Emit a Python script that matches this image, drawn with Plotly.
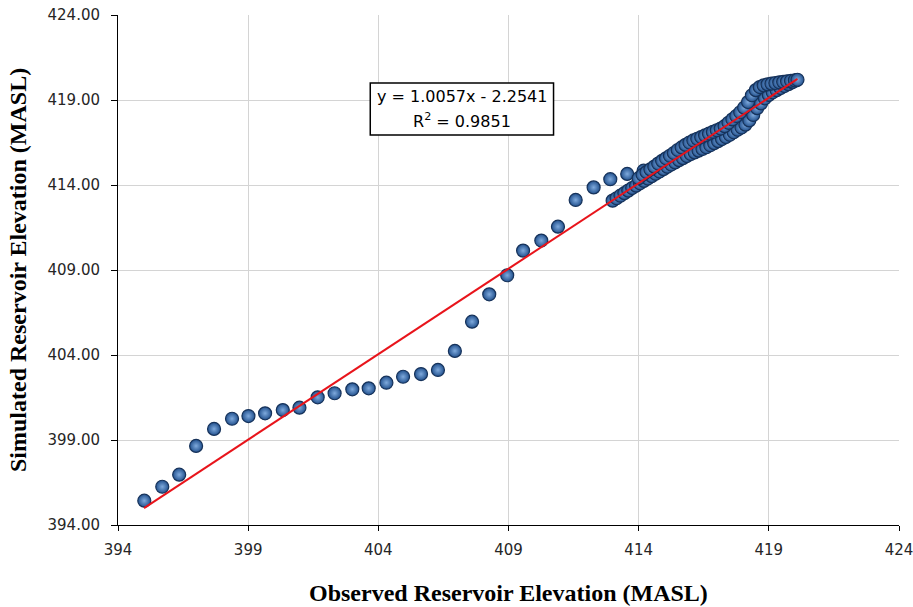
import plotly.graph_objects as go

# Sparse observed / simulated pairs (lower range)
obs_sparse = [395.01, 395.70, 396.35, 397.00, 397.69, 398.38, 399.01, 399.65, 400.33, 400.97,
              401.67, 402.32, 403.00, 403.63, 404.31, 404.95, 405.64, 406.29, 406.94, 407.60,
              408.26, 408.95, 409.56, 410.26, 410.90, 411.58, 412.27, 412.91, 413.56, 414.19]
sim_sparse = [395.43, 396.25, 396.96, 398.65, 399.65, 400.25, 400.41, 400.57, 400.76, 400.90,
              401.51, 401.75, 401.98, 402.04, 402.37, 402.72, 402.88, 403.12, 404.24, 405.96,
              407.57, 408.69, 410.14, 410.73, 411.55, 413.12, 413.86, 414.34, 414.65, 414.84]

# Dense band, upper row
obs_upper = [414.00, 414.15, 414.30, 414.45, 414.60, 414.75, 414.90, 415.05, 415.20, 415.35,
             415.50, 415.65, 415.80, 415.95, 416.10, 416.25, 416.40, 416.55, 416.70, 416.85,
             417.00, 417.15, 417.30, 417.45, 417.60, 417.75, 417.90, 418.05, 418.20, 418.35,
             418.50, 418.65, 418.80, 418.95, 419.10, 419.25, 419.40, 419.55, 419.70, 419.85,
             420.00, 420.10]
sim_upper = [414.40, 414.60, 414.76, 414.92, 415.08, 415.26, 415.42, 415.57, 415.72, 415.88,
             416.06, 416.21, 416.36, 416.50, 416.62, 416.72, 416.82, 416.92, 417.02, 417.12,
             417.22, 417.32, 417.46, 417.66, 417.86, 418.06, 418.28, 418.55, 418.88, 419.28,
             419.58, 419.76, 419.86, 419.92, 419.96, 420.00, 420.04, 420.07, 420.10, 420.13,
             420.16, 420.19]

# Dense band, lower row
obs_lower = [413.00, 413.15, 413.30, 413.45, 413.60, 413.75, 413.90, 414.05, 414.20, 414.35,
             414.50, 414.65, 414.80, 414.95, 415.10, 415.25, 415.40, 415.55, 415.70, 415.85,
             416.00, 416.15, 416.30, 416.45, 416.60, 416.75, 416.90, 417.05, 417.20, 417.35,
             417.50, 417.65, 417.80, 417.95, 418.10, 418.25, 418.40, 418.55, 418.70, 418.85,
             419.00, 419.15, 419.30, 419.45, 419.60, 419.75, 419.90, 420.05]
sim_lower = [413.08, 413.22, 413.37, 413.52, 413.67, 413.82, 413.96, 414.10, 414.24, 414.38,
             414.52, 414.66, 414.79, 414.93, 415.07, 415.20, 415.33, 415.46, 415.58, 415.70,
             415.82, 415.92, 416.02, 416.12, 416.22, 416.34, 416.46, 416.58, 416.70, 416.82,
             416.95, 417.10, 417.25, 417.38, 417.55, 417.80, 418.12, 418.52, 418.80, 419.10,
             419.30, 419.45, 419.58, 419.70, 419.82, 419.93, 420.04, 420.15]

# Linear trendline
slope = 1.0057
intercept = -2.2541
trend_x = [395.0, 420.1]
r2 = 0.9851

tick_vals = [394, 399, 404, 409, 414, 419, 424]

obs = obs_sparse + obs_lower + obs_upper
sim = sim_sparse + sim_lower + sim_upper
trend_y = [slope * v + intercept for v in trend_x]

fig = go.Figure()
fig.add_trace(go.Scatter(
    x=obs, y=sim, mode="markers",
    marker=dict(size=13, color="#22518E",
                gradient=dict(type="radial", color="#7FAADD"),
                line=dict(color="#16325A", width=1.2)),
    showlegend=False, hoverinfo="x+y", cliponaxis=False))
fig.add_trace(go.Scatter(
    x=trend_x, y=trend_y, mode="lines",
    line=dict(color="#E8141B", width=2),
    showlegend=False, hoverinfo="skip"))

tick_font = dict(family="DejaVu Sans", size=15, color="#262626")
fig.update_xaxes(range=[394, 424], tickvals=tick_vals, ticktext=[str(v) for v in tick_vals],
                 showgrid=True, gridcolor="#D4D4D4", gridwidth=1,
                 showline=True, linecolor="#000000", linewidth=1,
                 ticks="outside", ticklen=5, tickcolor="#000000",
                 tickfont=tick_font, zeroline=False, ticklabelstandoff=6, automargin=False,
                 ticklabeloverflow="allow")
fig.update_yaxes(range=[394, 424], tickvals=tick_vals, ticktext=["%.2f" % v for v in tick_vals],
                 showgrid=True, gridcolor="#D4D4D4", gridwidth=1,
                 showline=True, linecolor="#000000", linewidth=1,
                 ticks="outside", ticklen=6, tickcolor="#000000",
                 tickfont=tick_font, zeroline=False, ticklabelstandoff=8, automargin=False,
                 ticklabeloverflow="allow")

fig.add_shape(type="rect", xref="x", yref="y", x0=403.69, x1=410.73, y0=416.94, y1=420.0,
              line=dict(color="#000000", width=1.5), fillcolor="white", layer="above")
box_font = dict(family="DejaVu Sans", size=16, color="#000000")
fig.add_annotation(x=407.2, y=419.18, xref="x", yref="y", showarrow=False,
                   text="y = %.4fx - %.4f" % (slope, -intercept), font=box_font)
fig.add_annotation(x=407.2, y=417.78, xref="x", yref="y", showarrow=False,
                   text="R<sup>2</sup> = %.4f" % r2, font=box_font)

title_font = dict(family="Liberation Serif", size=24, color="#000000")
fig.add_annotation(text="<b>Observed Reservoir Elevation (MASL)</b>", xref="paper", yref="paper",
                   x=0.5, y=0, yanchor="middle", yshift=-68, showarrow=False, font=title_font)
fig.add_annotation(text="<b>Simulated Reservoir Elevation (MASL)</b>", xref="paper", yref="paper",
                   x=0, y=0.5, xanchor="center", xshift=-100, textangle=-90, showarrow=False,
                   font=title_font)

fig.update_layout(width=913, height=607, margin=dict(l=118, r=14, t=15, b=82),
                  plot_bgcolor="white", paper_bgcolor="white")
fig.write_html("out.html", config={"displayModeBar": False},
               post_script="document.body.style.margin='0';document.body.style.overflow='hidden';")
